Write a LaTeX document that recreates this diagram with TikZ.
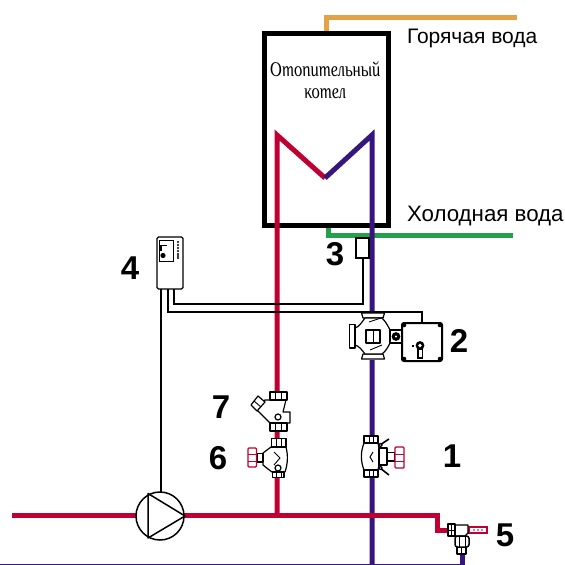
\documentclass[tikz,border=0pt]{standalone}
\usepackage{fontspec}
\setmainfont{Liberation Sans}
\newfontfamily\boilerfont[UprightFont=* Italic,FakeSlant=-0.2]{Liberation Serif}
\definecolor{hotred}{HTML}{BE0032}
\definecolor{coldblue}{HTML}{36167C}
\definecolor{hotorange}{HTML}{E2A245}
\definecolor{coldgreen}{HTML}{23A04C}
\tikzset{
  every node/.style={outer sep=0pt},
  pipe/.style={line width=5pt,miter limit=10},
  redpipe/.style={pipe,draw=hotred},
  bluepipe/.style={pipe,draw=coldblue},
  wire/.style={draw=black,line width=1.1pt},
  fit part/.style={draw=black,fill=white,line width=1.2pt,line join=round},
  fine/.style={draw=black,line width=.9pt},
  wheel/.style={draw=hotred,fill=white,line width=1.4pt,rounded corners=1pt},
  num/.style={font=\bfseries\fontsize{33}{33}\selectfont,text=black,inner sep=0pt},
  lab/.style={text=black,inner sep=0pt,anchor=base west},
}
\begin{document}
\begin{tikzpicture}[x=1pt,y=-1pt]
\useasboundingbox (0,0) rectangle (565,565);
\fill[white] (0,0) rectangle (565,565);

% named points of the pipe work
\coordinate (hotA) at (326.5,33);
\coordinate (hotB) at (326.5,17.5);
\coordinate (hotC) at (517,17.5);
\coordinate (coldA) at (328,225);
\coordinate (coldB) at (328,235);
\coordinate (coldC) at (513,235);
\coordinate (coilM) at (325,178);
\coordinate (teeR) at (277,515);
\coordinate (teeB) at (372,564);
\coordinate (westEnd) at (12,515);

% pipes
\draw[pipe,draw=hotorange] (hotA) -- (hotB) -- (hotC);
\draw[pipe,draw=coldgreen] (coldA) -- (coldB) -- (coldC);

% boiler
\node[draw=black,line width=5pt,minimum width=124pt,minimum height=192pt,inner sep=0pt,anchor=north west] (boiler) at (264.5,33.5) {};
\node[font=\boilerfont\fontsize{21}{22}\selectfont,align=center,inner sep=0pt,anchor=north] (boilertext) at (326,61.5) {\scalebox{.79}[1]{Отопительный}\\\scalebox{.79}[1]{котел}};

\draw[redpipe,line join=miter] (teeR) -- (277,135) -- (coilM);
\draw[bluepipe,line join=miter] (coilM) -- (372,135) -- (teeB);
\draw[redpipe,line join=miter] (westEnd) -- (teeR) -- (437,515) -- (437,530) -- (450,530);
\draw[draw=coldblue,line width=1.3pt] (0,564.5) -- (462,564.5);
\draw[draw=coldblue,line width=5pt] (462,565) -- (462,550);

% devices joined by wires
\node[draw=black,line width=1.3pt,fill=white,rounded corners=1.5pt,minimum width=26pt,minimum height=52pt,inner sep=0pt,anchor=north west] (ctrl) at (157,237) {};
\node[draw=black,line width=1.1pt,fill=white,minimum width=13pt,minimum height=20pt,inner sep=0pt,anchor=north west] (sensorbox) at (356,238) {};
\node[draw=black,line width=2pt,fill=white,rounded corners=2pt,minimum width=40pt,minimum height=38pt,inner sep=0pt,anchor=north west] (act) at (402,323) {};
\node[draw=black,line width=1.5pt,fill=white,circle,minimum size=48pt,inner sep=0pt] (pump) at (160,516) {};

\draw[wire] (161,289) -- (pump.north -| 161,0);
\draw[wire] (168,289) -- (168,312) -- (422,312) -- (act.north -| 422,0);
\draw[wire] (174,289) -- (174,304) -- (363,304) -- (sensorbox.south -| 363,0);

% controller details
\draw[fine,fill=white] (159.5,240) rectangle (173,261);
\fill (163,255.5) circle (2.6pt);
\draw[line width=1.2pt] (161,251) -- (161,245.5) -- (167,245.5);
\foreach \yy in {242,245,248,251,254,256,258}{\fill (178,\yy) circle (1.1pt);}

% pump triangle
\draw[line width=1.5pt,line join=round] (148,493.5) -- (185,516) -- (148,538) -- cycle;

% pump (2)
\fill[white] (349,312.5) rectangle (400,360);
\draw[fit part] (361.5,313) -- (384.5,313) -- (383,318) -- (363,318) -- cycle;
\draw[fit part] (361.5,359) -- (384.5,359) -- (383,354) -- (363,354) -- cycle;
\draw[fit part] (355,328) .. controls (359,327) and (362,322) .. (365,318) -- (382,318) .. controls (386,322) and (388,326) .. (390,330) -- (390,343) .. controls (388,347) and (386,351) .. (382,354) -- (365,354) .. controls (362,350) and (359,346) .. (355,345) -- cycle;
\draw[fit part] (349.5,324.5) rectangle (355,348);
\draw[fit part,line width=1.5pt] (366,330) rectangle (380,343);
\draw[fine] (373,331) -- (373,342);
\draw[fine] (369,322) -- (384,317);
\draw[fine] (370,350) -- (382,345);
\draw[fit part] (390,330) rectangle (402,343);
\fill (396,336.5) circle (4.4pt);
\fill[white] (396,336.5) circle (1.2pt);
% actuator
\foreach \cx/\cy in {404/325,440/325,404/359,440/359}{\fill (\cx,\cy) circle (2.3pt);}
\fill (420,345.5) circle (4.4pt);
\fill[white] (420,345.5) circle (1.8pt);
\draw[line width=1.5pt,fill=white] (418,349) rectangle (422.5,358);
\draw[fine] (412,345) rectangle (413.5,346.5);

% valve 7
\draw[fit part] (265,400) -- (286,400) -- (283,412) -- (290,412) -- (290,423) -- (270,423) -- (255,408) -- cycle;
\draw[fit part] (251,405) -- (258,396) -- (265,402) -- (257,411) -- cycle;
\draw[fine] (254,401) -- (261,407);
\draw[fit part] (270,392) rectangle (287,400);
\draw[fine] (275.5,392) -- (275.5,400) (281.5,392) -- (281.5,400);
\draw[fit part] (270,423) rectangle (287,431);
\draw[fine] (275.5,423) -- (275.5,431) (281.5,423) -- (281.5,431);
\draw[fit part] (278,417) circle (3pt);

% valve 6
\draw[fit part] (271,447) -- (286,447) .. controls (288,455) and (288,463) .. (285,472) -- (272,472) -- (268,469) -- (263,465) -- (263,453) -- (267,450) -- cycle;
\draw[fit part] (257,453.5) rectangle (263,462);
\draw[wheel] (248,448) rectangle (256.5,467);
\draw[draw=hotred,line width=1pt] (248,454) -- (256.5,454) (248,461) -- (256.5,461);
\draw[fit part] (271.5,438.5) rectangle (286,447);
\draw[fine] (276,438.5) -- (276,447) (281.5,438.5) -- (281.5,447);
\draw[fit part] (272.5,472) rectangle (284,477.5);
\draw[fine] (276,472) -- (276,477.5) (281,472) -- (281,477.5);
\draw[fine] (274,452) -- (280,458) -- (274,465);
\draw[fit part] (278,468) circle (3pt);

% valve 1
\draw[fit part] (364,443) .. controls (360.5,452) and (360.5,461) .. (364,470) -- (378,470) -- (379,465) -- (379,448) -- (378,443) -- cycle;
\draw[line width=1.6pt] (380,445) -- (389,439) (380,468) -- (389,475);
\draw[fit part] (379,448) rectangle (387,465);
\draw[fit part] (387,452.5) rectangle (395,461);
\draw[wheel] (395,447) rectangle (404,468);
\draw[draw=hotred,line width=1pt] (395,454) -- (404,454) (395,461) -- (404,461);
\draw[fit part] (364,436) rectangle (378,443);
\draw[fine] (369,436) -- (369,443) (373.5,436) -- (373.5,443);
\draw[fit part] (364,470) rectangle (378,477);
\draw[fine] (369,470) -- (369,477) (373.5,470) -- (373.5,477);
\draw[line width=1pt] (373,452) -- (370,457) -- (373,462);
\draw[fit part] (380.5,445) circle (1.8pt);
\draw[fit part] (380.5,468) circle (1.8pt);

% valve 5
\draw[draw=hotred,fill=white,line width=1.2pt] (469,527) rectangle (487,533);
\fill[hotred] (474,530) circle (.8pt) (478,530) circle (.8pt) (482,530) circle (.8pt);
\draw[fit part] (455,525) -- (468,525) -- (468,533) -- (465,536) -- (455,536) -- cycle;
\draw[fit part] (448,524) rectangle (455,536);
\draw[fine] (451.5,524) -- (451.5,536) (448,530) -- (455,530);
\draw[fit part] (457,547) rectangle (466,554);
\draw[fine] (461.5,547) -- (461.5,554);
\draw[fit part,rounded corners=2.5pt,line width=1.5pt] (455,536) rectangle (469,547);
\draw[fine] (459,536) -- (459,547) (465,536) -- (465,547);

% texts
\node[lab,font=\fontsize{21}{24}\selectfont] (hotlabel) at (407,43) {Горячая вода};
\node[lab,font=\fontsize{22.3}{24}\selectfont] (coldlabel) at (407,221) {Холодная вода};
\node[num] (n4) at (130,268) {4};
\node[num] (n3) at (335,254) {3};
\node[num] (n2) at (459,341) {2};
\node[num] (n7) at (221,407) {7};
\node[num] (n6) at (218,458) {6};
\node[num] (n1) at (452,456) {1};
\node[num] (n5) at (505,535) {5};
\end{tikzpicture}
\end{document}
